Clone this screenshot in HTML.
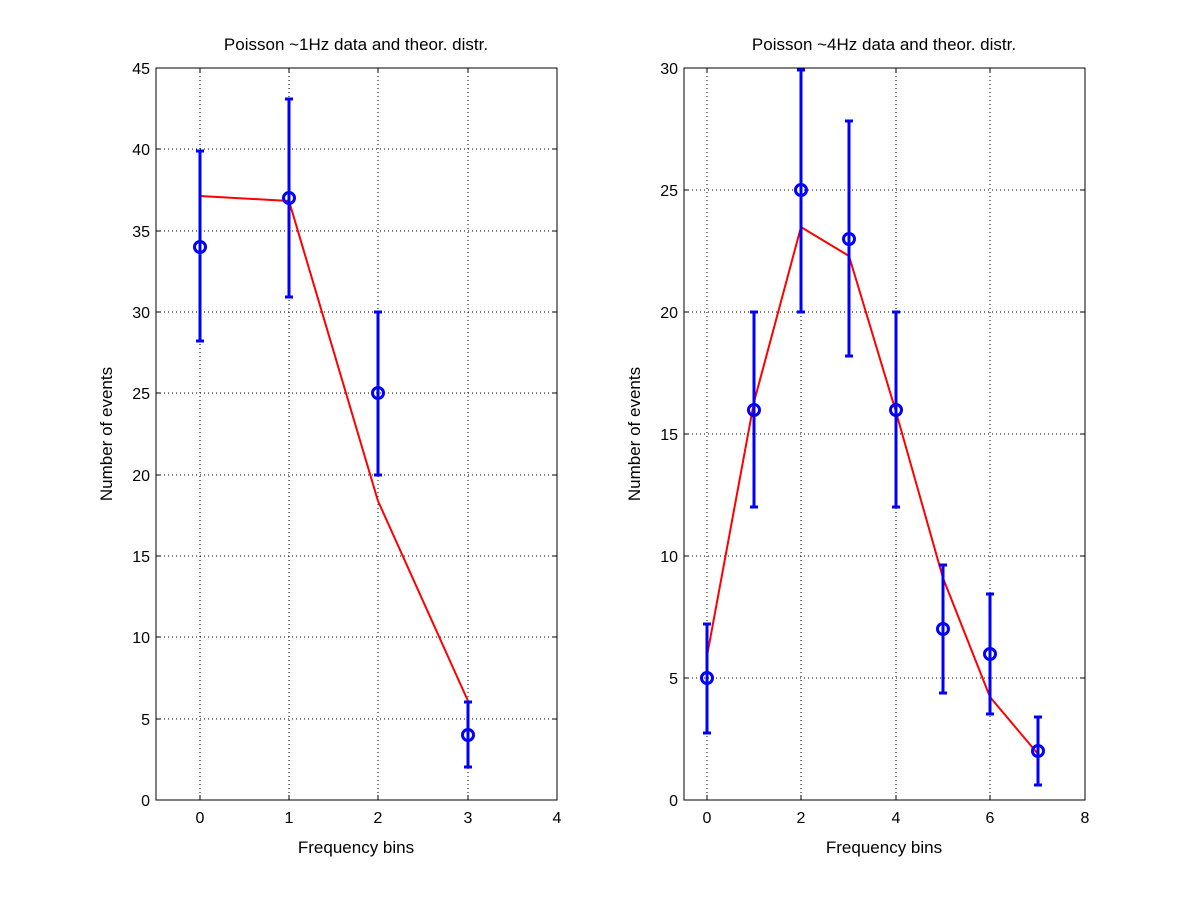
<!DOCTYPE html>
<html><head><meta charset="utf-8"><style>body{margin:0;background:#fff}svg{display:block}</style></head><body>
<svg width="1200" height="900" xmlns="http://www.w3.org/2000/svg" font-family="Liberation Sans, sans-serif" font-size="16">
<rect width="1200" height="900" fill="#fff"/>
<g id="L">
<rect x="156" y="68" width="401" height="732" fill="#fff" stroke="#000"/>
<g stroke="#000" stroke-dasharray="1,3" stroke-width="1">
<line x1="200" y1="68" x2="200" y2="800"/><line x1="289" y1="68" x2="289" y2="800"/><line x1="378" y1="68" x2="378" y2="800"/><line x1="468" y1="68" x2="468" y2="800"/>
<line x1="156" x2="557" y1="719" y2="719"/><line x1="156" x2="557" y1="637" y2="637"/><line x1="156" x2="557" y1="556" y2="556"/><line x1="156" x2="557" y1="475" y2="475"/><line x1="156" x2="557" y1="393" y2="393"/><line x1="156" x2="557" y1="312" y2="312"/><line x1="156" x2="557" y1="231" y2="231"/><line x1="156" x2="557" y1="149" y2="149"/>
</g>
<g stroke="#000">
<path d="M200 800v-5M289 800v-5M378 800v-5M468 800v-5M557 800v-5M200 68v5M289 68v5M378 68v5M468 68v5"/>
<path d="M156 719h5M156 637h5M156 556h5M156 475h5M156 393h5M156 312h5M156 231h5M156 149h5M557 719h-5M557 637h-5M557 556h-5M557 475h-5M557 393h-5M557 312h-5M557 231h-5M557 149h-5"/>
</g>
<g text-anchor="middle"><text x="200" y="823">0</text><text x="289" y="823">1</text><text x="378" y="823">2</text><text x="468" y="823">3</text><text x="557" y="823">4</text></g>
<g text-anchor="end"><text x="150" y="806">0</text><text x="150" y="725">5</text><text x="150" y="643">10</text><text x="150" y="562">15</text><text x="150" y="481">20</text><text x="150" y="399">25</text><text x="150" y="318">30</text><text x="150" y="237">35</text><text x="150" y="155">40</text><text x="150" y="74">45</text></g>
<text x="356" y="853" text-anchor="middle" font-size="17">Frequency bins</text>
<text x="356" y="50" text-anchor="middle" font-size="17">Poisson ~1Hz data and theor. distr.</text>
<text transform="translate(112 434) rotate(-90)" text-anchor="middle" font-size="17">Number of events</text>
<polyline points="200,196 289,201 378,501 468,701" fill="none" stroke="#f00" stroke-width="2"/>
<g stroke="#00f" stroke-width="3" fill="none">
<path d="M200 341V151M196 341h8M196 151h8"/><circle cx="200" cy="247" r="5.5"/>
<path d="M289 297V99M285 297h8M285 99h8"/><circle cx="289" cy="198" r="5.5"/>
<path d="M378 475V312M374 475h8M374 312h8"/><circle cx="378" cy="393" r="5.5"/>
<path d="M468 767V702M464 767h8M464 702h8"/><circle cx="468" cy="735" r="5.5"/>
</g>
</g>
<g id="R">
<rect x="684" y="68" width="401" height="732" fill="#fff" stroke="#000"/>
<g stroke="#000" stroke-dasharray="1,3">
<line x1="707" y1="68" x2="707" y2="800"/><line x1="801" y1="68" x2="801" y2="800"/><line x1="896" y1="68" x2="896" y2="800"/><line x1="990" y1="68" x2="990" y2="800"/>
<line x1="684" x2="1085" y1="678" y2="678"/><line x1="684" x2="1085" y1="556" y2="556"/><line x1="684" x2="1085" y1="434" y2="434"/><line x1="684" x2="1085" y1="312" y2="312"/><line x1="684" x2="1085" y1="190" y2="190"/>
</g>
<g stroke="#000">
<path d="M707 800v-5M801 800v-5M896 800v-5M990 800v-5M707 68v5M801 68v5M896 68v5M990 68v5"/>
<path d="M684 678h5M684 556h5M684 434h5M684 312h5M684 190h5M1085 678h-5M1085 556h-5M1085 434h-5M1085 312h-5M1085 190h-5"/>
</g>
<g text-anchor="middle"><text x="707" y="823">0</text><text x="801" y="823">2</text><text x="896" y="823">4</text><text x="990" y="823">6</text><text x="1085" y="823">8</text></g>
<g text-anchor="end"><text x="678" y="806">0</text><text x="678" y="684">5</text><text x="678" y="562">10</text><text x="678" y="440">15</text><text x="678" y="318">20</text><text x="678" y="196">25</text><text x="678" y="74">30</text></g>
<text x="884" y="853" text-anchor="middle" font-size="17">Frequency bins</text>
<text x="884" y="50" text-anchor="middle" font-size="17">Poisson ~4Hz data and theor. distr.</text>
<text transform="translate(640 434) rotate(-90)" text-anchor="middle" font-size="17">Number of events</text>
<polyline points="707,656 754,402 801,227 849,256 896,412 943,578 990,697 1038,754" fill="none" stroke="#f00" stroke-width="2"/>
<g stroke="#00f" stroke-width="3" fill="none">
<path d="M707 733V624M703 733h8M703 624h8"/><circle cx="707" cy="678" r="5.5"/>
<path d="M754 507V312M750 507h8M750 312h8"/><circle cx="754" cy="410" r="5.5"/>
<path d="M801 312V70M797 312h8M797 70h8"/><circle cx="801" cy="190" r="5.5"/>
<path d="M849 356V121M845 356h8M845 121h8"/><circle cx="849" cy="239" r="5.5"/>
<path d="M896 507V312M892 507h8M892 312h8"/><circle cx="896" cy="410" r="5.5"/>
<path d="M943 693V565M939 693h8M939 565h8"/><circle cx="943" cy="629" r="5.5"/>
<path d="M990 714V594M986 714h8M986 594h8"/><circle cx="990" cy="654" r="5.5"/>
<path d="M1038 785V717M1034 785h8M1034 717h8"/><circle cx="1038" cy="751" r="5.5"/>
</g>
</g>
</svg>
</body></html>
